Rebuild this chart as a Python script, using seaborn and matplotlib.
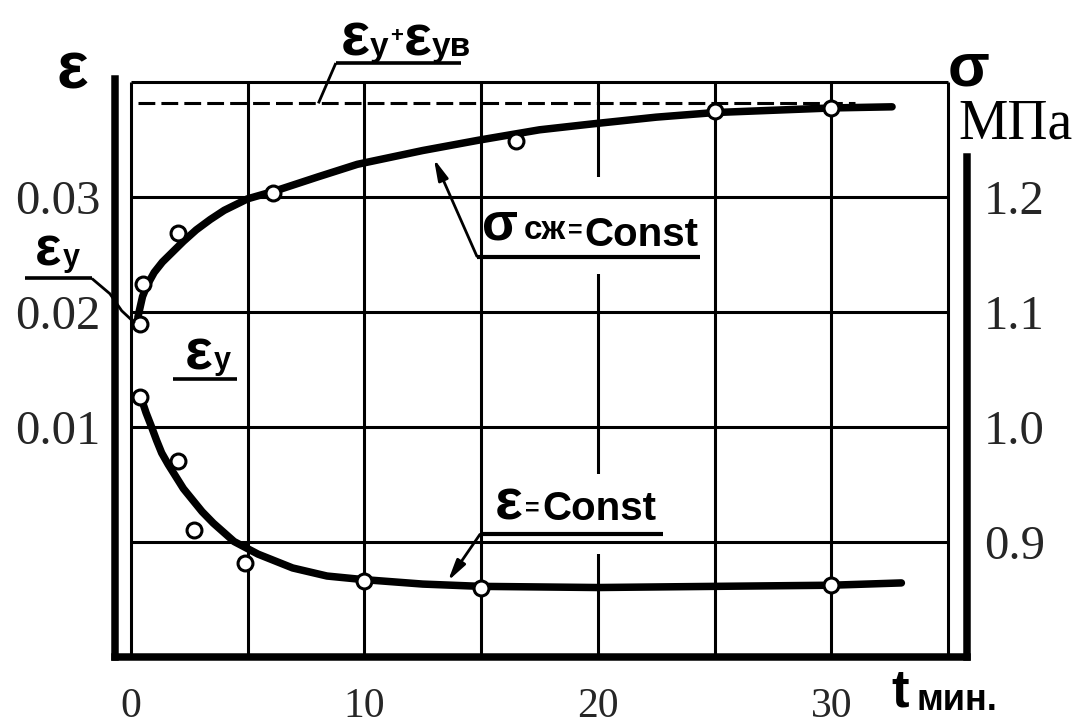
import matplotlib
matplotlib.use("Agg")
import matplotlib.pyplot as plt
from matplotlib import font_manager
from matplotlib.font_manager import FontProperties
from matplotlib.patches import Rectangle
import numpy as np
import pandas as pd
import seaborn as sns

# ---- creep under constant stress (left axis, strain) ----
t_creep_pts = [0.4, 0.5, 2.0, 6.1, 16.5, 25.0, 30.0]
eps_creep_pts = [0.0189, 0.0224, 0.0268, 0.0303, 0.0348, 0.0374, 0.0377]
t_creep_fit = [0.3, 0.4, 0.5, 0.7, 1.0, 1.35, 1.75, 2.25, 2.8, 3.4, 4.0, 5.0, 6.2, 8.0, 9.7,
               12.5, 14.9, 17.5, 19.7, 22.5, 25.0, 30.0, 32.6]
eps_creep_fit = [0.0195, 0.0204, 0.0213, 0.0223, 0.0234, 0.0243, 0.0251, 0.0261, 0.0271, 0.0280,
                 0.0288, 0.0298, 0.0305, 0.0317, 0.0328, 0.0340, 0.0349, 0.0358, 0.0363, 0.0369,
                 0.0373, 0.0377, 0.0378]
t_limit = [0.3, 31.0]
eps_limit = [0.0381, 0.0381]

# ---- relaxation under constant strain (right axis, stress, MPa) ----
t_relax_pts = [0.4, 2.0, 2.7, 4.9, 10.0, 15.0, 30.0]
sig_relax_pts = [1.026, 0.970, 0.910, 0.881, 0.866, 0.860, 0.862]
t_relax_fit = [0.42, 0.65, 0.88, 1.1, 1.32, 1.6, 1.91, 2.25, 2.65, 3.05, 3.53, 4.42, 5.45, 6.93,
               8.4, 9.9, 12.5, 15.0, 20.0, 25.0, 30.0, 33.0]
sig_relax_fit = [1.026, 1.012, 1.000, 0.988, 0.977, 0.967, 0.957, 0.946, 0.936, 0.926, 0.916,
                 0.900, 0.889, 0.877, 0.870, 0.867, 0.863, 0.861, 0.860, 0.861, 0.862, 0.864]

x_ticks = [0, 10, 20, 30]
x_tick_labels = ["0", "10", "20", "30"]
eps_ticks = [0.01, 0.02, 0.03]
eps_tick_labels = ["0.01", "0.02", "0.03"]
sig_ticks = [0.9, 1.0, 1.1, 1.2]
sig_tick_labels = ["0.9", "1.0", "1.1", "1.2"]

sns.set_style("white")
SERIF = ["Liberation Serif", "DejaVu Serif"]
plt.rcParams["font.family"] = SERIF
INK = "black"

# bold sans for the stencil-style labels
LABEL_PATH = font_manager.findfont(FontProperties(family=["Liberation Sans", "DejaVu Sans"],
                                                  weight="bold"))


def lf(size):
    return FontProperties(fname=LABEL_PATH, size=size)


fig = plt.figure(figsize=(10.83, 7.24), dpi=100)
fig.patch.set_facecolor("white")
ax = fig.add_axes([0.1066, 0.0932, 0.7863, 0.8101])
ax.set_facecolor("white")
ax2 = ax.twinx()

# ---- grid box: 5-minute columns, 0.01 rows ----
grid_lw = 2.2
ax.vlines(np.arange(0, 36, 5), -0.01, 0.04, color=INK, lw=grid_lw, zorder=1)
# white gaps in the 20-min column behind the labels
for lo, hi in [(0.0233, 0.0317), (-0.00105, 0.0059)]:
    ax.add_patch(Rectangle((19.5, lo), 1.0, hi - lo, facecolor="white",
                           edgecolor="none", zorder=1.1))
ax.hlines([0.0, 0.01, 0.02, 0.03, 0.04], 0, 35, color=INK, lw=grid_lw, zorder=1.2)

# ---- creep curve, limit line and readings ----
creep_fit = pd.DataFrame({"t": t_creep_fit, "eps": eps_creep_fit})
sns.lineplot(data=creep_fit, x="t", y="eps", ax=ax, color=INK, lw=5.4,
             estimator=None, sort=False, zorder=3, solid_capstyle="round")
ax.plot(t_limit, eps_limit, color=INK, lw=2.2, ls=(0, (5.5, 2.0)), zorder=2.5)
sns.scatterplot(x=t_creep_pts, y=eps_creep_pts, ax=ax, s=115, color="white",
                edgecolor=INK, linewidth=2.2, zorder=4)

# ---- relaxation curve and readings ----
relax_fit = pd.DataFrame({"t": t_relax_fit, "sig": sig_relax_fit})
sns.lineplot(data=relax_fit, x="t", y="sig", ax=ax2, color=INK, lw=5.4,
             estimator=None, sort=False, zorder=3, solid_capstyle="round")
sns.scatterplot(x=t_relax_pts, y=sig_relax_pts, ax=ax2, s=115, color="white",
                edgecolor=INK, linewidth=2.2, zorder=4)

# ---- scales ----
ax.set_xlim(-0.66, 35.81)
ax.set_ylim(-0.01, 0.041)
ax2.set_ylim(0.8, 1.31)
for a in (ax, ax2):
    a.set_xlabel("")
    a.set_ylabel("")

ax.set_xticks(x_ticks, labels=x_tick_labels)
ax.set_yticks(eps_ticks, labels=eps_tick_labels)
ax2.set_yticks(sig_ticks, labels=sig_tick_labels)
ax.tick_params(axis="x", length=0, pad=22, labelsize=30)
ax.tick_params(axis="y", length=0, pad=11, labelsize=35)
ax2.tick_params(axis="y", length=0, pad=12, labelsize=35)
for lab in ax.get_xticklabels() + ax.get_yticklabels() + ax2.get_yticklabels():
    lab.set_family(SERIF)

spine_lw = 5.4
for a in (ax, ax2):
    for s in a.spines.values():
        s.set_visible(False)
ax.spines["left"].set_visible(True)
ax.spines["left"].set_linewidth(spine_lw)
ax.spines["left"].set_bounds(-0.01, 0.0402)
ax.spines["bottom"].set_visible(True)
ax.spines["bottom"].set_linewidth(spine_lw)
ax2.spines["right"].set_visible(True)
ax2.spines["right"].set_linewidth(spine_lw)
ax2.spines["right"].set_bounds(0.8, 1.234)
for s in (ax.spines["left"], ax.spines["bottom"], ax2.spines["right"]):
    s.set_color(INK)

renderer = fig.canvas.get_renderer()


def draw_label(parts, t0, e0):
    """Lay out label pieces left to right; each piece is (text, size, dy_px, gap_px)."""
    x_px = 0.0
    for text, size, dy, gap in parts:
        a = ax.annotate(text, xy=(t0, e0), xytext=(x_px * 0.72, dy * 0.72),
                        textcoords="offset points", fontproperties=lf(size),
                        ha="left", va="baseline", color=INK,
                        annotation_clip=False, zorder=6)
        x_px += a.get_window_extent(renderer).width + gap


def leader(ts, es, lw=2.0):
    ax.plot(ts, es, color=INK, lw=lw, clip_on=False, zorder=5,
            solid_capstyle="butt", solid_joinstyle="round")


def arrow(start, tip):
    ax.annotate("", xy=tip, xytext=start, annotation_clip=False, zorder=5,
                arrowprops=dict(arrowstyle="-|>,head_length=0.9,head_width=0.22",
                                lw=2.0, color=INK, shrinkA=0, shrinkB=0,
                                mutation_scale=14))


# axis symbols
ax.text(-2.49, 0.0409, "ε", fontproperties=lf(48), ha="center", va="center",
        clip_on=False, color=INK)
ax.text(35.86, 0.0410, "σ", fontproperties=lf(44), ha="center", va="center",
        clip_on=False, color=INK)
ax.text(37.87, 0.03624, "МПа", fontsize=40, family=SERIF,
        ha="center", va="center", clip_on=False, color=INK)
draw_label([("t", 38, 0, 8), ("мин.", 26, -3, 0)], 32.56, -0.01435)

# limit strain label
draw_label([("ε", 44, 0, 0), ("у", 24, 0, 1), ("+", 16, 14, 1),
            ("ε", 42, 0, 0), ("ув", 24, 0, 0)], 9.0, 0.04222)
leader([8.78, 14.14], [0.04161, 0.04161], lw=2.6)
leader([8.78, 8.03], [0.04161, 0.0381])

# instantaneous strain on the creep curve
draw_label([("ε", 40, 0, 1), ("у", 22, 0, 0)], -4.11, 0.0240)
leader([-4.54, -1.67], [0.02291, 0.02291], lw=2.6)
leader([-1.67, -0.90, -0.39, 0.17], [0.02287, 0.02155, 0.02006, 0.0190])

# instantaneous strain on the relaxation curve
draw_label([("ε", 42, 0, 1), ("у", 22, 0, 0)], 2.31, 0.01496)
leader([1.8, 4.54], [0.01417, 0.01417], lw=2.6)

# constant stress label
draw_label([("σ", 38, 7, 6), ("сж", 24, 7, 2), ("=", 18, 9, 2),
            ("Const", 29, 0, 0)], 15.04, 0.02566)
leader([14.82, 24.38], [0.02474, 0.02474], lw=3.0)
arrow((14.82, 0.0248), (12.98, 0.03327))

# constant strain label
draw_label([("ε", 42, 0, 2), ("=", 18, 4, 3), ("Const", 29, 0, 0)], 15.6, 0.00191)
leader([14.95, 22.79], [0.00065, 0.00065], lw=3.0)
arrow((14.95, 0.00062), (13.58, -0.00343))

fig.savefig("out.png", dpi=100, facecolor="white")
